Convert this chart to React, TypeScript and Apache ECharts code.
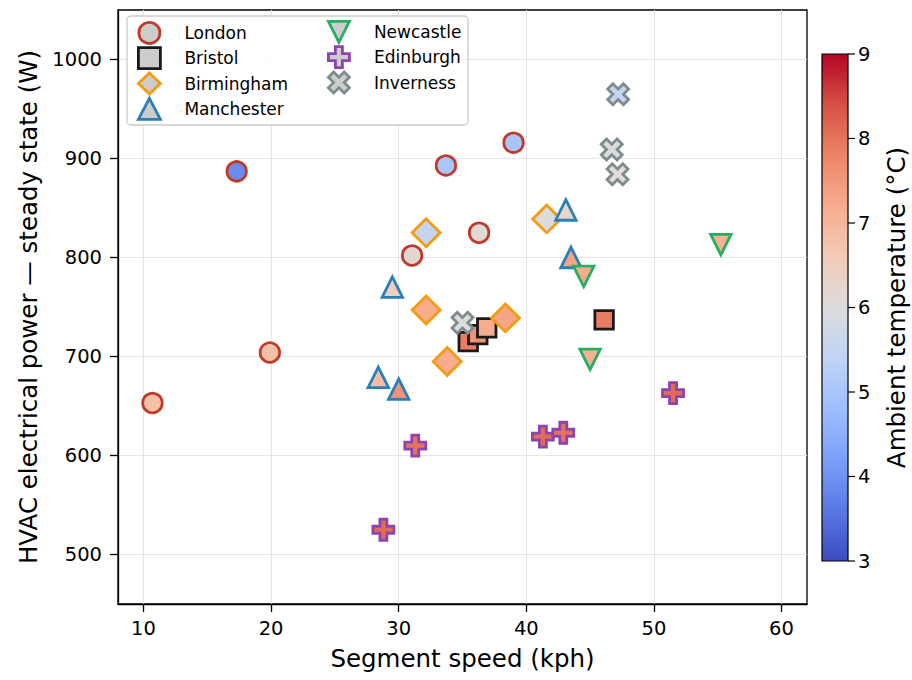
import React, { useEffect, useRef } from "react";
import * as echarts from "echarts";

// [speed (kph), power (W), ambient temperature (°C)]
const london = [[10.7, 653, 6.8], [17.3, 887, 3.9], [19.9, 704, 6.8], [31.05, 802, 6.2], [33.7, 893, 5.0], [36.3, 825, 6.1], [39.0, 916, 5.0]];
const bristol = [[35.45, 715, 7.9], [36.2, 722, 7.6], [36.9, 729, 7.2], [46.1, 737, 7.9]];
const birmingham = [[32.15, 825, 5.5], [32.15, 747, 7.2], [33.8, 695, 7.2], [38.36, 739, 7.3], [41.6, 839, 6.0]];
const manchester = [[29.5, 770, 6.5], [28.4, 679, 6.9], [30.0, 667, 7.6], [43.1, 848, 6.3], [43.5, 800, 7.3]];
const newcastle = [[44.5, 781, 7.2], [45.0, 697, 7.1], [55.25, 813, 7.1]];
const edinburgh = [[28.8, 525, 8.1], [31.3, 610, 8.0], [41.3, 619, 8.1], [42.9, 623, 8.0], [51.5, 663, 8.1]];
const inverness = [[47.2, 965, 5.5], [46.7, 909, 6.0], [47.15, 884, 6.05], [35.0, 734, 6.0]];

const cityNames = ["London", "Bristol", "Birmingham", "Manchester", "Newcastle", "Edinburgh", "Inverness"];
const cityData = [london, bristol, birmingham, manchester, newcastle, edinburgh, inverness];

const xTicks = [10, 20, 30, 40, 50, 60];
const yTicks = [500, 600, 700, 800, 900, 1000];
const cbarTicks = [3, 4, 5, 6, 7, 8, 9];
const coolwarm = ["#3b4cc0", "#5a78e4", "#7b9ff9", "#9ebeff", "#c0d4f5", "#dddcdc", "#f2cbb7", "#f7ac8e", "#ee8468", "#d65244", "#b40426"];

const PLUS = "path://M-1,-3 L1,-3 L1,-1 L3,-1 L3,1 L1,1 L1,3 L-1,3 L-1,1 L-3,1 L-3,-1 L-1,-1 Z";
const XSHAPE = "path://M2,-4 L4,-2 L2,0 L4,2 L2,4 L0,2 L-2,4 L-4,2 L-2,0 L-4,-2 L-2,-4 L0,-2 Z";
const DOWNTRI = "path://M-1,-1 L1,-1 L0,1 Z";

const cityStyles = [
  { symbol: "circle", size: 19.5, edge: "#c0392b" },
  { symbol: "rect", size: 18.5, edge: "#1a1a1a" },
  { symbol: "diamond", size: 28, edge: "#f39c12" },
  { symbol: "triangle", size: 20.5, edge: "#2980b9" },
  { symbol: DOWNTRI, size: 20.5, edge: "#27ae60" },
  { symbol: PLUS, size: 21, edge: "#8e44ad" },
  { symbol: XSHAPE, size: 21, edge: "#7f8c8d" },
];

const CB = { x: 822, y: 54, w: 26, h: 507, min: 3, max: 9 };

export default function App() {
  const ref = useRef<HTMLDivElement>(null);
  useEffect(() => {
    if (!ref.current) return;
    const chart = echarts.init(ref.current, null, { renderer: "svg" });
    const font = "DejaVu Sans";

    const series = cityNames.map((name, i) => ({
      type: "scatter",
      name,
      data: cityData[i],
      symbol: cityStyles[i].symbol,
      symbolSize: cityStyles[i].size,
      itemStyle: { color: "#cccccc", borderColor: cityStyles[i].edge, borderWidth: 2.8, opacity: 1 },
      emphasis: { disabled: true },
      z: 2,
    }));

    const cbGraphics: any[] = [];
    cbGraphics.push({
      type: "rect",
      z: 5,
      shape: { x: CB.x, y: CB.y, width: CB.w, height: CB.h },
      style: {
        fill: new echarts.graphic.LinearGradient(0, 1, 0, 0, coolwarm.map((c, i) => ({ offset: i / (coolwarm.length - 1), color: c }))),
        stroke: "#000",
        lineWidth: 1.2,
      },
    });
    cbarTicks.forEach((v) => {
      const y = CB.y + ((CB.max - v) / (CB.max - CB.min)) * CB.h;
      cbGraphics.push({
        type: "line",
        z: 5,
        shape: { x1: CB.x + CB.w, y1: y, x2: CB.x + CB.w + 7, y2: y },
        style: { stroke: "#000", lineWidth: 1.2 },
      });
      cbGraphics.push({
        type: "text",
        z: 5,
        x: CB.x + CB.w + 10,
        y,
        style: { text: String(v), fontSize: 19.5, fontFamily: font, fill: "#000", textAlign: "left", textVerticalAlign: "middle" },
      });
    });
    cbGraphics.push({
      type: "text",
      z: 5,
      x: 896,
      y: CB.y + CB.h / 2,
      rotation: Math.PI / 2,
      style: { text: "Ambient temperature (°C)", fontSize: 24.5, fontFamily: font, fill: "#000", textAlign: "center", textVerticalAlign: "middle" },
    });

    const legendCommon = {
      orient: "vertical",
      padding: 0,
      itemWidth: 22,
      itemHeight: 21,
      itemGap: 1.5,
      z: 4,
      selectedMode: false,
      itemStyle: { color: "#cccccc", borderWidth: 2.8 },
      textStyle: { fontSize: 17, lineHeight: 20, fontFamily: font, color: "#000", padding: [0, 0, 0, 19] },
    };

    const option: any = {
      animation: false,
      backgroundColor: "#ffffff",
      textStyle: { fontFamily: font },
      grid: { left: 118, top: 10, right: 105, bottom: 76, show: true, borderColor: "#000", borderWidth: 1.3 },
      xAxis: {
        type: "value",
        min: 8,
        max: 62,
        name: "Segment speed (kph)",
        nameLocation: "middle",
        nameGap: 42,
        nameTextStyle: { fontSize: 24.5, color: "#000", fontFamily: font },
        axisLine: { show: true, onZero: false, lineStyle: { color: "#000", width: 1.3 } },
        axisTick: { show: true, length: 8, customValues: xTicks, lineStyle: { color: "#000", width: 1.3 } },
        axisLabel: { customValues: xTicks, fontSize: 19.5, color: "#000", margin: 14, fontFamily: font, formatter: (v: number) => String(v) },
        splitLine: { show: true, lineStyle: { color: "#e6e6e6", width: 1 } },
      },
      yAxis: {
        type: "value",
        min: 450,
        max: 1050,
        name: "HVAC electrical power — steady state (W)",
        nameLocation: "middle",
        nameGap: 74,
        nameTextStyle: { fontSize: 24.5, color: "#000", fontFamily: font },
        axisLine: { show: true, onZero: false, lineStyle: { color: "#000", width: 1.3 } },
        axisTick: { show: true, length: 8, customValues: yTicks, lineStyle: { color: "#000", width: 1.3 } },
        axisLabel: { customValues: yTicks, fontSize: 19.5, color: "#000", margin: 16, fontFamily: font, formatter: (v: number) => String(v) },
        splitLine: { show: true, lineStyle: { color: "#e6e6e6", width: 1 } },
      },
      visualMap: {
        show: false,
        type: "continuous",
        min: CB.min,
        max: CB.max,
        dimension: 2,
        seriesIndex: cityNames.map((_, i) => i),
        inRange: { color: coolwarm },
      },
      legend: [
        { ...legendCommon, left: 137, top: 21, data: cityNames.slice(0, 4) },
        { ...legendCommon, left: 327, top: 20, data: cityNames.slice(4) },
      ],
      graphic: [
        {
          type: "rect",
          z: 3,
          shape: { x: 127, y: 16, width: 341, height: 109, r: 4 },
          style: { fill: "rgba(255,255,255,0.85)", stroke: "#cccccc", lineWidth: 1.3 },
        },
        ...cbGraphics,
      ],
      series,
    };
    chart.setOption(option);
    return () => chart.dispose();
  }, []);
  return <div ref={ref} style={{ position: "fixed", left: 0, top: 0, width: 912, height: 680 }} />;
}
